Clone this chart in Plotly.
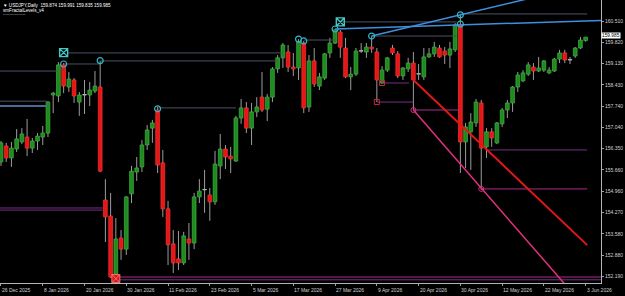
import plotly.graph_objects as go

# ---------------- data ----------------
date_labels = ["26 Dec 2025", "8 Jan 2026", "20 Jan 2026", "30 Jan 2026", "11 Feb 2026",
               "23 Feb 2026", "5 Mar 2026", "17 Mar 2026", "27 Mar 2026", "9 Apr 2026",
               "20 Apr 2026", "30 Apr 2026", "12 May 2026", "22 May 2026", "3 Jun 2026"]
date_bars = [0, 8, 16, 24, 32, 40, 48, 56, 64, 72, 80, 88, 96, 104, 112]

opens = [155.92, 156.44, 156.05, 156.34, 156.57, 156.73, 156.37, 156.60, 156.73, 156.86,
         158.10, 158.07, 159.08, 158.36, 158.59, 157.87, 158.10, 158.10, 158.23, 158.36,
         154.68, 154.16, 152.20, 153.44, 153.08, 154.88, 155.59, 155.76, 156.47, 157.02,
         157.61, 155.89, 154.39, 153.25, 152.76, 152.63, 153.41, 153.28, 154.78, 155.01,
         154.84, 154.62, 155.79, 156.34, 156.11, 155.95, 157.35, 157.68, 157.02, 157.55,
         158.03, 157.64, 158.03, 158.95, 159.31, 159.50, 159.01, 158.98, 159.79, 157.71,
         159.21, 158.39, 158.65, 159.47, 159.79, 160.15, 159.63, 158.69, 158.78, 159.53,
         159.50, 159.66, 159.50, 158.49, 158.91, 159.63, 159.44, 158.72, 158.95, 159.14,
         158.78, 158.69, 159.34, 159.44, 159.63, 159.53, 159.40, 159.57, 160.38, 156.57,
         156.90, 157.19, 157.84, 156.41, 156.90, 156.54, 157.16, 157.61, 157.84, 158.36,
         158.56, 158.78, 159.01, 158.88, 158.91, 158.82, 158.88, 159.27, 159.47, 159.24,
         159.37, 159.63, 159.874]
highs = [156.60, 156.54, 156.57, 156.99, 157.02, 157.32, 156.70, 156.86, 157.09, 157.90,
         158.20, 159.17, 159.14, 158.85, 158.65, 158.20, 158.59, 158.52, 158.88, 159.21,
         155.36, 154.91, 154.09, 153.70, 154.81, 155.79, 156.08, 156.63, 157.12, 157.29,
         157.71, 156.31, 154.65, 153.70, 153.67, 153.64, 153.93, 154.91, 155.36, 155.66,
         155.07, 156.28, 156.83, 156.47, 156.41, 157.42, 157.97, 157.87, 157.84, 158.03,
         158.85, 158.13, 159.01, 159.40, 159.79, 159.73, 159.47, 159.92, 159.86, 159.40,
         159.63, 158.82, 159.47, 159.96, 160.25, 160.22, 159.96, 159.01, 159.63, 159.79,
         159.79, 160.02, 159.63, 159.04, 159.34, 159.73, 159.53, 159.01, 159.31, 159.50,
         159.11, 159.63, 159.63, 159.83, 159.73, 159.66, 159.83, 160.44, 160.71, 157.19,
         157.51, 157.97, 157.94, 157.02, 157.02, 157.22, 157.68, 157.94, 158.39, 158.85,
         158.91, 159.17, 159.14, 159.34, 159.24, 159.01, 159.31, 159.57, 159.57, 159.34,
         159.66, 159.99, 159.991]
lows = [155.79, 155.92, 155.76, 156.24, 156.50, 156.11, 156.21, 156.31, 156.47, 156.73,
        157.51, 157.87, 158.16, 158.20, 157.84, 157.42, 157.48, 157.74, 158.16, 155.59,
        153.31, 152.14, 152.11, 152.73, 152.89, 154.58, 155.30, 155.59, 156.31, 156.54,
        155.56, 154.13, 152.56, 152.30, 152.40, 152.56, 152.73, 153.08, 154.58, 154.26,
        154.00, 154.52, 155.36, 155.69, 155.56, 155.92, 157.16, 156.86, 156.47, 157.38,
        157.55, 157.25, 157.87, 158.82, 158.98, 158.85, 158.72, 158.59, 157.51, 157.55,
        158.36, 158.26, 158.59, 159.31, 159.76, 159.31, 158.65, 158.26, 158.72, 159.47,
        159.31, 159.47, 157.87, 158.46, 158.85, 159.40, 158.65, 158.59, 158.85, 157.61,
        158.59, 158.59, 159.31, 159.34, 159.31, 159.11, 158.98, 159.50, 155.56, 155.72,
        155.66, 157.06, 155.01, 156.05, 156.41, 156.50, 157.06, 157.35, 157.55, 158.20,
        158.52, 158.72, 158.59, 158.85, 158.85, 158.78, 158.85, 159.14, 159.14, 159.11,
        159.31, 159.60, 159.835]
closes = [156.54, 156.05, 156.37, 156.67, 156.83, 156.37, 156.60, 156.76, 156.86, 157.87,
          158.16, 159.08, 158.39, 158.62, 158.07, 158.10, 158.11, 158.26, 158.39, 155.62,
          154.13, 152.17, 153.41, 153.08, 154.78, 155.62, 155.72, 156.47, 156.96, 157.19,
          155.82, 154.39, 153.22, 152.63, 152.63, 153.51, 153.28, 154.78, 154.97, 155.00,
          154.62, 155.85, 156.34, 156.08, 156.02, 157.35, 157.68, 157.02, 157.55, 157.71,
          157.61, 158.03, 158.95, 159.31, 159.73, 159.01, 158.95, 159.83, 157.68, 159.21,
          158.46, 158.69, 159.44, 159.79, 160.22, 159.66, 158.69, 158.78, 159.53, 159.54,
          159.66, 159.60, 158.59, 158.91, 159.31, 159.47, 158.72, 158.98, 159.14, 158.59,
          158.79, 159.34, 159.44, 159.66, 159.34, 159.40, 159.60, 160.38, 156.57, 157.06,
          157.22, 157.87, 156.37, 156.90, 156.70, 157.19, 157.61, 157.84, 158.36, 158.75,
          158.82, 159.08, 158.88, 158.98, 159.21, 158.91, 159.27, 159.47, 159.24, 159.25,
          159.63, 159.89, 159.985]

price_ticks = [160.510, 159.820, 159.130, 158.430, 157.740, 157.040, 156.350,
               155.660, 154.960, 154.270, 153.580, 152.880, 152.190]
last_price = 159.985

# fractal markers (bar index, price)
circle_bars = [12, 19, 30, 57, 58, 64, 71, 88, 88]
circle_prices = [159.11, 159.22, 157.65, 159.92, 159.86, 160.25, 160.02, 160.71, 160.41]
square_bars = [12, 65]
square_prices = [159.48, 160.48]
low_box_bars = [72, 73]
low_box_prices = [157.87, 158.49]
pink_mark_bars = [79, 92]
pink_mark_prices = [157.61, 155.04]
big_low_bar = [22]
big_low_price = [152.12]

# horizontal levels: start bar, end bar, price
lvl_x0 = [12.8, 12, 19, 30, -0.2, -0.2, 58, 65, 71, 88]
lvl_x1 = [54, 19, 53, 45, 10.7, 8.8, 64, 87.3, 87.3, 112.3]
lvl_p = [159.47, 159.11, 159.21, 157.68, 158.88, 157.90, 159.89, 160.48, 160.02, 160.74]
blue_lvl_x0 = [-0.2]
blue_lvl_x1 = [8.8]
blue_lvl_p = [157.74]
purple_x0 = [-0.2, -0.2, 21.5, 73, 72, 93.3]
purple_x1 = [19.5, 19.5, 115, 78.2, 79, 112.3]
purple_p = [154.42, 154.35, 152.08, 158.49, 157.87, 156.31]
magenta_x0 = [21.5, 79, 92]
magenta_x1 = [115, 88, 112.3]
magenta_p = [152.17, 157.61, 155.04]

# trend lines: (bar, price) endpoints
blue1_x = [71, 105]
blue1_y = [160.02, 161.40]
blue2_x = [64, 115]
blue2_y = [160.25, 160.53]
red_x = [79, 112.3]
red_y = [158.59, 153.21]
pink_x = [79, 110]
pink_y = [157.61, 151.55]

# ---------------- figure ----------------
FONT = "Liberation Sans"
n = len(opens)
idx = list(range(n))

body_h, fills, edges = [], [], []
for o, c in zip(opens, closes):
    d = c - o
    if abs(d) < 0.02:
        body_h.append(0.012)
        fills.append("#d8d8d8")
        edges.append("#d8d8d8")
    elif d > 0:
        body_h.append(d)
        fills.append("#1f8a1f")
        edges.append("#3fb43f")
    else:
        body_h.append(d)
        fills.append("#e51616")
        edges.append("#ff3030")

fig = go.Figure()

fig.add_trace(go.Bar(x=idx, y=body_h, base=opens, width=0.72,
                     marker=dict(color=fills, line=dict(color=edges, width=0.7)),
                     hoverinfo="skip"))

wx, wy = [], []
for i, (o, h, l, c) in enumerate(zip(opens, highs, lows, closes)):
    top, bot = max(o, c), min(o, c)
    wx += [i, i, None, i, i, None]
    wy += [h, top, None, bot, l, None]
fig.add_trace(go.Scatter(x=wx, y=wy, mode="lines",
                         line=dict(color="#9c9c9c", width=1), hoverinfo="skip"))


def seg_trace(x0s, x1s, ps, color, width):
    xs, ys = [], []
    for a, b, p in zip(x0s, x1s, ps):
        xs += [a, b, None]
        ys += [p, p, None]
    return go.Scatter(x=xs, y=ys, mode="lines", line=dict(color=color, width=width),
                      hoverinfo="skip")


fig.add_trace(seg_trace(lvl_x0, lvl_x1, lvl_p, "#4b5263", 1))
fig.add_trace(seg_trace(blue_lvl_x0, blue_lvl_x1, blue_lvl_p, "#4a6a9c", 2))
fig.add_trace(seg_trace(purple_x0, purple_x1, purple_p, "#7a2f86", 1))
fig.add_trace(seg_trace(magenta_x0, magenta_x1, magenta_p, "#b02c8c", 1))

fig.add_trace(go.Scatter(x=blue1_x, y=blue1_y, mode="lines",
                         line=dict(color="#3f8fe0", width=1.5), hoverinfo="skip"))
fig.add_trace(go.Scatter(x=blue2_x, y=blue2_y, mode="lines",
                         line=dict(color="#3f8fe0", width=1.5), hoverinfo="skip"))
fig.add_trace(go.Scatter(x=red_x, y=red_y, mode="lines",
                         line=dict(color="#e01818", width=2), hoverinfo="skip"))
fig.add_trace(go.Scatter(x=pink_x, y=pink_y, mode="lines",
                         line=dict(color="#e0307e", width=1.5), hoverinfo="skip"))

fig.add_trace(go.Scatter(x=circle_bars, y=circle_prices, mode="markers",
                         marker=dict(symbol="circle-open", size=6, color="#2fb8c8",
                                     line=dict(width=1.2)), hoverinfo="skip"))
fig.add_trace(go.Scatter(x=square_bars, y=square_prices, mode="markers",
                         marker=dict(symbol="square-x-open", size=8, color="#45c8c8",
                                     line=dict(width=1.4)), hoverinfo="skip"))
fig.add_trace(go.Scatter(x=low_box_bars, y=low_box_prices, mode="markers",
                         marker=dict(symbol="square-open", size=5, color="#c8283a",
                                     line=dict(width=1)), hoverinfo="skip"))
fig.add_trace(go.Scatter(x=pink_mark_bars, y=pink_mark_prices, mode="markers",
                         marker=dict(symbol="circle-open", size=5, color="#d8307e",
                                     line=dict(width=1)), hoverinfo="skip"))
fig.add_trace(go.Scatter(x=big_low_bar, y=big_low_price, mode="markers",
                         marker=dict(symbol="square-x", size=8, color="#d41818",
                                     line=dict(color="#ff7070", width=1)), hoverinfo="skip"))

annotations = []
for b, t in zip(date_bars, date_labels):
    annotations.append(dict(x=b, y=0, xref="x", yref="paper", text=t, showarrow=False,
                            xanchor="left", yanchor="top", yshift=-2, xshift=-1,
                            font=dict(family=FONT, size=5, color="#d0d0d0")))
annotations.append(dict(x=1, y=last_price, xref="paper", yref="y", text=str(last_price),
                        showarrow=False, xanchor="left", yanchor="middle", xshift=0,
                        yshift=1.5, bgcolor="#ffffff", borderpad=0,
                        font=dict(family=FONT, size=4.8, color="#000000")))
annotations.append(dict(x=0, y=1, xref="paper", yref="paper",
                        text="▼ USDJPY,Daily  159.874 159.991 159.835 159.985",
                        showarrow=False, xanchor="left", yanchor="top", xshift=1, yshift=-1,
                        font=dict(family=FONT, size=4.6, color="#ffffff")))
annotations.append(dict(x=0, y=1, xref="paper", yref="paper", text="smFractalLevels_v4",
                        showarrow=False, xanchor="left", yanchor="top", xshift=1, yshift=-6,
                        font=dict(family=FONT, size=4.6, color="#ffffff")))
annotations.append(dict(x=0, y=1, xref="paper", yref="paper", text="▪▪▪▪▪▪▪▪▪▪▪▪▪▪▪▪▪▪▪▪▪",
                        showarrow=False, xanchor="left", yanchor="top", xshift=1, yshift=-10,
                        font=dict(family=FONT, size=3, color="#8a8a8a")))

fig.update_layout(
    width=625, height=296,
    margin=dict(l=0, r=24, t=0, b=13),
    paper_bgcolor="#000000", plot_bgcolor="#000000",
    showlegend=False,
    annotations=annotations,
    xaxis=dict(range=[-0.19, 114.94], showgrid=False, zeroline=False,
               tickvals=date_bars, showticklabels=False, ticks="outside", ticklen=2,
               tickcolor="#a0a0a0", showline=True, linecolor="#b4b4b4", linewidth=1,
               mirror=True, fixedrange=True),
    yaxis=dict(range=[151.976, 161.194], side="right", showgrid=False, zeroline=False,
               tickvals=price_ticks, ticktext=[f"{v:.3f}" for v in price_ticks],
               ticks="outside", ticklen=2, tickcolor="#a0a0a0",
               tickfont=dict(family=FONT, size=5, color="#d0d0d0"),
               showline=True, linecolor="#b4b4b4", linewidth=1, mirror=True,
               fixedrange=True),
)

fig.write_html("out.html")
